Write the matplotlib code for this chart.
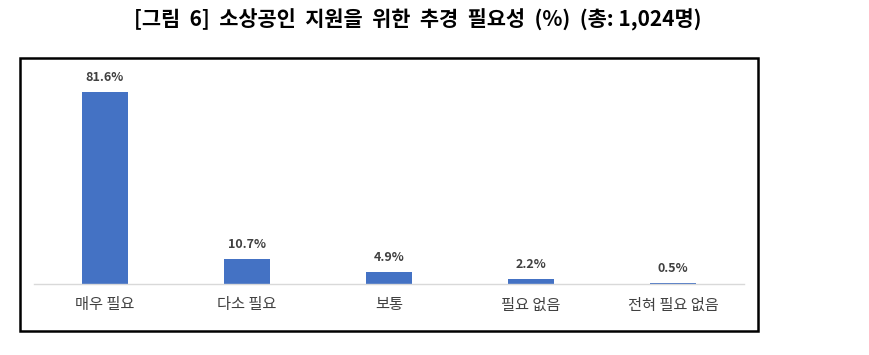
import matplotlib
matplotlib.use("Agg")
import matplotlib.pyplot as plt
from matplotlib.patches import Rectangle

plt.rcParams['font.family'] = ['Noto Sans CJK KR', 'DejaVu Sans']

# 데이터
categories = ['매우 필요', '다소 필요', '보통', '필요 없음', '전혀 필요 없음']
values = [81.6, 10.7, 4.9, 2.2, 0.5]
title = '[그림  6]  소상공인  지원을  위한  추경  필요성  (%)  (총: 1,024명)'

W, H = 869, 355
fig = plt.figure(figsize=(W / 100, H / 100), dpi=100)

# 축 위치 (픽셀 기준)
left, right, bottom, top = 34, 744, 284, 65
ax = fig.add_axes([left / W, 1 - bottom / H, (right - left) / W, (bottom - top) / H])

x = range(len(categories))
bars = ax.bar(x, values, width=0.32, color='#4472C4', zorder=2)
for b, v in zip(bars, values):
    ax.text(b.get_x() + b.get_width() / 2, v + 3.5, f'{v}%', ha='center', va='bottom',
            fontsize=9, fontweight='bold', color='#404040')

ax.set_xlim(-0.5, len(categories) - 0.5)
ax.set_ylim(0, 93)
ax.set_xticks(list(x))
ax.set_xticklabels(categories, fontsize=11, color='#404040')
ax.tick_params(axis='x', length=0, pad=9)
ax.set_yticks([])
for s in ['top', 'left', 'right']:
    ax.spines[s].set_visible(False)
ax.spines['bottom'].set_color('#d9d9d9')
ax.spines['bottom'].set_linewidth(1)

# 바깥 테두리
fig.patches.append(Rectangle((20 / W, 1 - 331 / H), (758 - 20) / W, (331 - 58) / H,
                             transform=fig.transFigure, fill=False, edgecolor='black', linewidth=1.8))

fig.text(418 / W, 1 - 20 / H, title, ha='center', va='center', fontsize=15, fontweight='bold')

fig.savefig('out.png', dpi=100)
